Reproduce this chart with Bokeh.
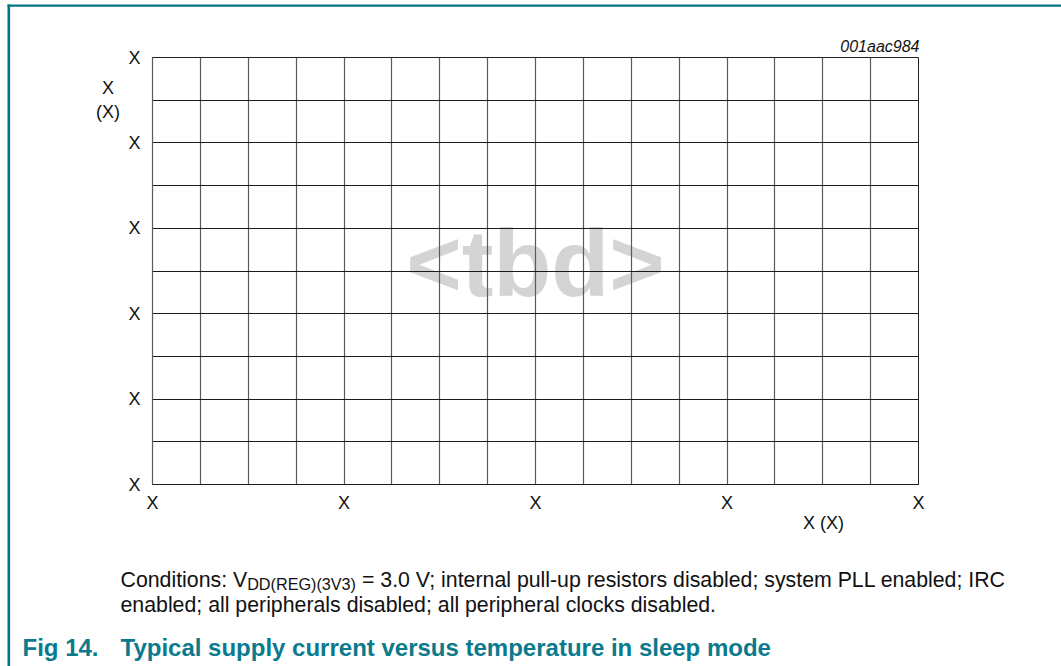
from bokeh.plotting import figure
from bokeh.models import Range1d, FixedTicker
from bokeh.core.properties import value
from bokeh.embed import file_html
from bokeh.resources import INLINE

# ---- data / texts ----
x_ticks = [0, 4, 8, 12, 16]
x_tick_labels = ["X", "X", "X", "X", "X"]
y_ticks = [0, 2, 4, 6, 8, 10]
y_tick_labels = ["X", "X", "X", "X", "X", "X"]
x_grid = [0, 1, 2, 3, 4, 5, 6, 7, 8, 9, 10, 11, 12, 13, 14, 15, 16]
y_grid = [0, 1, 2, 3, 4, 5, 6, 7, 8, 9, 10]
x_title = "X (X)"
y_title_line1 = "X"
y_title_line2 = "(X)"
placeholder = "<tbd>"
fig_code = "001aac984"
cond1a = "Conditions: V"
cond1sub = "DD(REG)(3V3)"
cond1b = "= 3.0 V; internal pull-up resistors disabled; system PLL enabled; IRC"
cond2 = "enabled; all peripherals disabled; all peripheral clocks disabled."
fig_num = "Fig 14."
fig_caption = "Typical supply current versus temperature in sleep mode"

FONT = "Liberation Sans"
TEAL = "#007587"
TITLE_TEAL = "#0b7a8c"
INK = "#111111"

# frame geometry in page pixels (canvas origin = page origin)
W, H = 1061, 666
F_LEFT, F_RIGHT, F_TOP, F_BOTTOM = 152, 918, 57, 484
X0, X1 = 0, 16
Y0, Y1 = 0, 10
PX_X = (F_RIGHT - F_LEFT) / (X1 - X0)
PX_Y = (F_BOTTOM - F_TOP) / (Y1 - Y0)


def dx(px):
    return X0 + (px - F_LEFT) / PX_X


def dy(py):
    return Y0 + (F_BOTTOM - py) / PX_Y


p = figure(
    frame_width=F_RIGHT - F_LEFT,
    frame_height=F_BOTTOM - F_TOP,
    min_border_left=F_LEFT,
    min_border_top=F_TOP,
    min_border_right=W - F_RIGHT,
    min_border_bottom=H - F_BOTTOM,
    x_range=Range1d(X0, X1),
    y_range=Range1d(Y0, Y1),
    output_backend="svg",
    toolbar_location=None,
)
p.outline_line_color = "#222222"
p.outline_line_width = 1
p.background_fill_color = "white"
p.border_fill_color = "white"

# placeholder text behind the grid
tbd = p.text(
    x=[dx(535)], y=[dy(262)], text=[placeholder],
    text_font=value(FONT), text_font_style="bold", text_font_size="95px",
    text_color="#d3d4d6", text_align="center", text_baseline="alphabetic",
)
tbd.level = "image"

# axes
for ax, ticks, labels in ((p.xaxis, x_ticks, x_tick_labels), (p.yaxis, y_ticks, y_tick_labels)):
    ax.ticker = FixedTicker(ticks=ticks)
    ax.major_label_overrides = {t: l for t, l in zip(ticks, labels)}
    ax.major_tick_line_color = None
    ax.minor_tick_line_color = None
    ax.major_tick_out = 0
    ax.major_tick_in = 0
    ax.minor_tick_out = 0
    ax.minor_tick_in = 0
    ax.major_label_text_font = FONT
    ax.major_label_text_font_size = "18px"
    ax.major_label_text_color = INK
p.xaxis.axis_line_color = "#1a1a1a"
p.yaxis.axis_line_color = "#5a5a5a"
p.yaxis.axis_line_width = 1.2
p.xaxis.major_label_standoff = 8
p.yaxis.major_label_standoff = 12

# grid
p.xgrid.ticker = FixedTicker(ticks=x_grid)
p.ygrid.ticker = FixedTicker(ticks=y_grid)
p.xgrid.grid_line_color = "#5a5a5a"
p.xgrid.grid_line_width = 1.2
p.ygrid.grid_line_color = "#1a1a1a"
p.ygrid.grid_line_width = 1


def add_text(text, px, py, size, color=INK, style="normal", align="left"):
    r = p.text(
        x=[dx(px)], y=[dy(py)], text=[text], text_font=value(FONT),
        text_font_size=size, text_font_style=style, text_color=color,
        text_align=align, text_baseline="alphabetic",
    )
    r.level = "overlay"
    return r


# axis titles
add_text(y_title_line1, 107.5, 87, "18px", align="center")
add_text(y_title_line2, 107.5, 111, "18px", align="center")
add_text(x_title, 823, 522, "18px", align="center")
add_text(fig_code, 919, 46, "16px", style="italic", align="right")

# conditions note
C = 21.3
S = 16.2
x_sub = 120 + 5.947 * C
x_rest = x_sub + 6.722 * S + 0.278 * C
add_text(cond1a, 120, 579, f"{C}px")
add_text(cond1sub, x_sub, 583, f"{S}px")
add_text(cond1b, x_rest, 579, f"{C}px")
add_text(cond2, 120, 604, f"{C}px")

# caption
add_text(fig_num, 22, 647, "24px", color=TITLE_TEAL, style="bold")
add_text(fig_caption, 120, 647, "24px", color=TITLE_TEAL, style="bold")

# page frame lines (teal)
fr = p.quad(left=[dx(7), dx(7)], right=[dx(1070), dx(9.6)],
            top=[dy(4), dy(4)], bottom=[dy(6.2), dy(700)],
            fill_color=TEAL, line_color=None)
fr.level = "overlay"

open("out.html", "w").write(file_html(p, INLINE))
